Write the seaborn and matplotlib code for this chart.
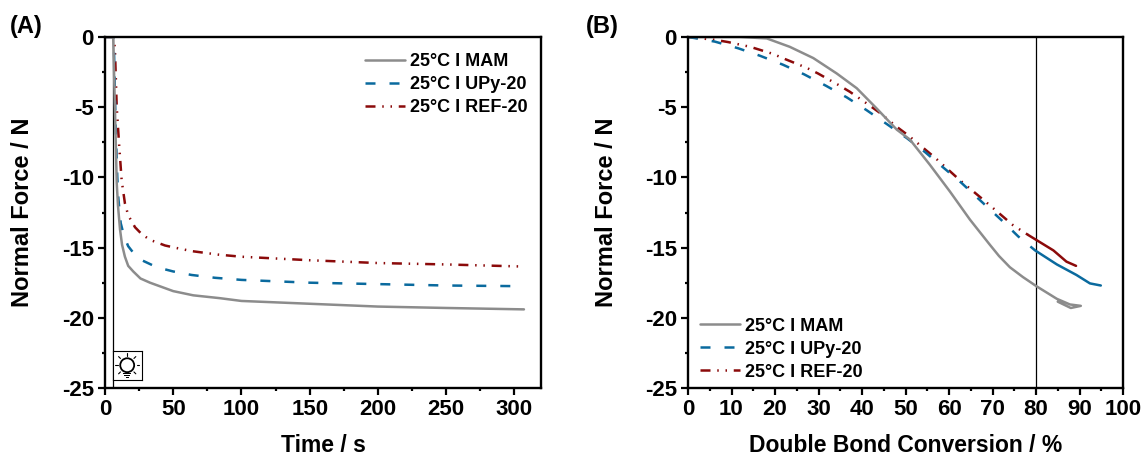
import numpy as np
import pandas as pd
import matplotlib
matplotlib.use('Agg')
import matplotlib.pyplot as plt
from matplotlib.patches import Circle, Rectangle
from matplotlib.ticker import MultipleLocator
import seaborn as sns

sns.set_theme(style='ticks', rc={'text.color': 'black', 'axes.labelcolor': 'black', 'axes.edgecolor': 'black',
                                 'xtick.color': 'black', 'ytick.color': 'black'})
plt.rcParams['font.family'] = ['Liberation Sans', 'DejaVu Sans']
plt.rcParams['font.weight'] = 'bold'
plt.rcParams['axes.labelweight'] = 'bold'

labels = ['25°C I MAM', '25°C I UPy-20', '25°C I REF-20']
colors = ['#8c8c8c', '#0a6a9e', '#8b0a0a']
styles = ['-', (0, (4, 5.6)), (0, (4, 2.7, 0.6, 2.7, 0.6, 2.7))]

# panel A: normal force over time
time_mam = [0, 6, 7, 8, 8.6, 9.5, 11, 12.5, 14.6, 17, 20.7, 26, 33, 50, 64.7, 84, 100, 150, 200, 250, 307]
force_mam = [0, 0, -4, -8, -10.4, -12, -13.7, -14.8, -15.65, -16.3, -16.7, -17.2, -17.5, -18.1, -18.4, -18.6, -18.8, -19, -19.2, -19.3, -19.4]
time_upy = [0, 6.2, 6.6, 7.8, 9, 9.8, 11.5, 14, 17, 21, 27, 38, 50, 63.5, 80.6, 100, 150, 200, 250, 307]
force_upy = [0, 0, -0.93, -6.4, -9.95, -11.5, -13.25, -14.2, -14.9, -15.4, -15.9, -16.4, -16.7, -16.95, -17.15, -17.3, -17.5, -17.6, -17.7, -17.75]
time_ref = [0, 6.5, 7.3, 8.6, 10.3, 12.2, 14.6, 17, 22, 27, 33, 44, 51, 63.5, 83, 100, 150, 200, 250, 307]
force_ref = [0, 0, -0.93, -5, -7.6, -10.2, -11.85, -12.7, -13.55, -14.05, -14.45, -14.85, -15, -15.25, -15.5, -15.65, -15.9, -16.1, -16.2, -16.35]

# panel B: normal force over conversion
conv_mam = [0, 12, 18.1, 23.4, 28.8, 34.2, 38.8, 43.4, 48, 51, 55.6, 60.2, 64.8, 69.4, 71.5, 74, 77, 80.1, 84.8, 87.8, 90.3, 88, 85]
conv_force_mam = [0, 0, -0.1, -0.7, -1.5, -2.6, -3.65, -5.1, -6.6, -7.3, -9.1, -11, -13, -14.8, -15.6, -16.4, -17.1, -17.75, -18.65, -19.05, -19.15, -19.3, -18.85]
conv_upy = [0, 2, 6.2, 11.5, 16.5, 21.8, 26.7, 31.7, 36.5, 41, 45.7, 50.3, 54.5, 58.7, 62.9, 66.7, 72.6, 75.9, 79.8, 84.8, 89.3, 92.4, 94.9]
conv_force_upy = [0, -0.1, -0.33, -0.8, -1.33, -1.97, -2.66, -3.47, -4.3, -5.2, -6.2, -7.2, -8.2, -9.3, -10.4, -11.5, -13.2, -14.2, -15.2, -16.2, -16.95, -17.55, -17.7]
conv_ref = [0, 6.2, 9.2, 14.3, 19.5, 22.3, 27.3, 29.9, 34.5, 37.2, 41.4, 44.1, 48, 50.6, 56.8, 62.5, 68.3, 74.7, 78.2, 84, 87, 89.2]
conv_force_ref = [0, -0.2, -0.36, -0.7, -1.2, -1.57, -2.2, -2.6, -3.4, -3.9, -4.8, -5.4, -6.4, -7, -8.6, -10.2, -11.7, -13.4, -14.1, -15.2, -16, -16.3]

lamp_on = 5.5
conv_mark = 80
# conversion from which the dashes close up to a solid line
solid_from = [0, 79.8, 78.2]

W, H = 1143, 458
fig = plt.figure(figsize=(W / 100, H / 100), dpi=100)


def px_axes(x0, x1, y0, y1):
    return fig.add_axes([x0 / W, 1 - y1 / H, (x1 - x0) / W, (y1 - y0) / H])


def draw_curve(ax, x, y, color, style):
    df = pd.DataFrame({'x': x, 'y': y})
    sns.lineplot(data=df, x='x', y='y', ax=ax, color=color, linestyle=style, linewidth=1.8,
                 estimator=None, sort=False, legend=False)


def style_axes(ax, xlabel, xmax, xmajor):
    ax.set_xlim(0, xmax)
    ax.set_ylim(-25, 0)
    ax.xaxis.set_major_locator(MultipleLocator(xmajor))
    ax.xaxis.set_minor_locator(MultipleLocator(xmajor / 2))
    ax.yaxis.set_major_locator(MultipleLocator(5))
    ax.yaxis.set_minor_locator(MultipleLocator(2.5))
    ax.tick_params(which='major', length=5, width=1.6, labelsize=16, pad=3)
    ax.tick_params(which='minor', length=2.5, width=1.6)
    for s in ax.spines.values():
        s.set_linewidth(1.7)
        s.set_visible(True)
    ax.set_xlabel(xlabel, fontsize=16.5)
    ax.set_ylabel('Normal Force / N', fontsize=17)
    ax.xaxis.set_label_coords(0.5, -0.132)
    ax.yaxis.set_label_coords(-0.162, 0.5)
    ax.set_yticks([0, -5, -10, -15, -20, -25])
    ax.set_yticklabels(['0', '-5', '-10', '-15', '-20', '-25'])


def add_legend(ax, anchor):
    handles = [plt.Line2D([], [], color=c, linestyle=s, linewidth=1.8) for c, s in zip(colors, styles)]
    ax.legend(handles, labels, loc='upper left', bbox_to_anchor=anchor, frameon=False,
              fontsize=13, handlelength=2.2, handletextpad=0.28, labelspacing=0.33,
              borderpad=0, borderaxespad=0)


# (A)
ax1 = px_axes(105, 541, 37, 388)
ax1.axvline(lamp_on, color='black', linewidth=0.9)
draw_curve(ax1, time_ref, force_ref, colors[2], styles[2])
draw_curve(ax1, time_upy, force_upy, colors[1], styles[1])
draw_curve(ax1, time_mam, force_mam, colors[0], styles[0])
style_axes(ax1, 'Time / s', 319.5, 50)
add_legend(ax1, (0.597, 0.953))

# lamp icon
icon = fig.add_axes([112.7 / W, 1 - 380 / H, 29 / W, 29 / H])
icon.set_xlim(-1, 1)
icon.set_ylim(-1, 1)
icon.set_xticks([])
icon.set_yticks([])
for s in icon.spines.values():
    s.set_linewidth(0.8)
icon.add_patch(Circle((0, 0.02), 0.48, fill=False, edgecolor='black', linewidth=1.3))
for a in np.deg2rad([0, 45, 90, 135, 180, -45, -135]):
    icon.plot([0.66 * np.cos(a), 0.84 * np.cos(a)], [0.02 + 0.66 * np.sin(a), 0.02 + 0.84 * np.sin(a)],
              color='black', linewidth=0.8)
for yy, hw in [(-0.6, 0.28), (-0.74, 0.2), (-0.86, 0.1)]:
    icon.add_patch(Rectangle((-hw, yy), 2 * hw, 0.08, color='black', linewidth=0))

# (B)
ax2 = px_axes(688, 1123, 37, 388)
ax2.axvline(conv_mark, color='black', linewidth=0.9)
draw_curve(ax2, conv_ref[:conv_ref.index(solid_from[2]) + 1], conv_force_ref[:conv_ref.index(solid_from[2]) + 1], colors[2], styles[2])
draw_curve(ax2, conv_ref[conv_ref.index(solid_from[2]):], conv_force_ref[conv_ref.index(solid_from[2]):], colors[2], '-')
draw_curve(ax2, conv_upy[:conv_upy.index(solid_from[1]) + 1], conv_force_upy[:conv_upy.index(solid_from[1]) + 1], colors[1], styles[1])
draw_curve(ax2, conv_upy[conv_upy.index(solid_from[1]):], conv_force_upy[conv_upy.index(solid_from[1]):], colors[1], '-')
draw_curve(ax2, conv_mam, conv_force_mam, colors[0], styles[0])
style_axes(ax2, 'Double Bond Conversion / %', 100, 10)
add_legend(ax2, (0.028, 0.2))

fig.text(10 / W, 1 - 27 / H, '(A)', fontsize=17, fontweight='bold', va='center')
fig.text(586 / W, 1 - 27 / H, '(B)', fontsize=17, fontweight='bold', va='center')

fig.savefig('out.png', dpi=100)
